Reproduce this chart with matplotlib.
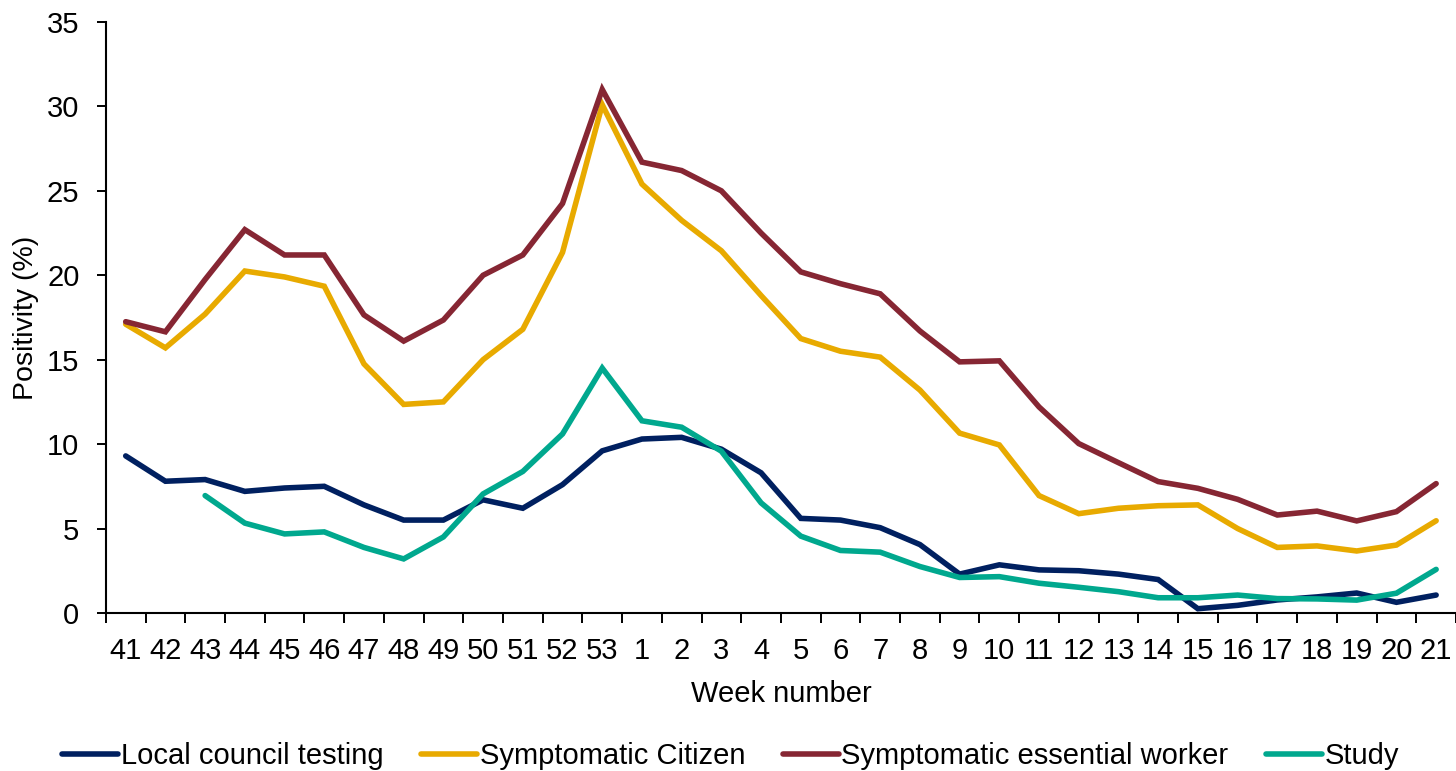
import matplotlib
matplotlib.use("Agg")
import matplotlib.pyplot as plt
import numpy as np

weeks = ["41", "42", "43", "44", "45", "46", "47", "48", "49", "50", "51", "52", "53",
         "1", "2", "3", "4", "5", "6", "7", "8", "9", "10", "11", "12", "13", "14",
         "15", "16", "17", "18", "19", "20", "21"]

local_council = [9.3, 7.8, 7.9, 7.2, 7.4, 7.5, 6.4, 5.5, 5.5, 6.7, 6.2, 7.6, 9.6,
                 10.3, 10.4, 9.7, 8.3, 5.6, 5.5, 5.05, 4.05, 2.3, 2.85, 2.55, 2.5, 2.3, 1.98,
                 0.25, 0.45, 0.77, 0.95, 1.18, 0.63, 1.06]
symptomatic_citizen = [17.1, 15.7, 17.7, 20.25, 19.9, 19.35, 14.75, 12.35, 12.5, 15.0, 16.8, 21.35, 30.1,
                       25.4, 23.25, 21.45, 18.8, 16.25, 15.5, 15.15, 13.2, 10.65, 9.95, 6.95, 5.88, 6.2, 6.35,
                       6.4, 5.0, 3.88, 3.97, 3.67, 4.02, 5.46]
symptomatic_essential = [17.25, 16.65, 19.75, 22.7, 21.2, 21.2, 17.65, 16.1, 17.35, 20.0, 21.2, 24.25, 31.0,
                         26.7, 26.2, 25.0, 22.5, 20.2, 19.5, 18.9, 16.7, 14.87, 14.93, 12.2, 10.03, 8.9, 7.78,
                         7.38, 6.73, 5.8, 6.03, 5.45, 6.0, 7.66]
study = [np.nan, np.nan, 6.95, 5.32, 4.68, 4.8, 3.88, 3.2, 4.5, 7.05, 8.38, 10.6, 14.5,
         11.38, 11.0, 9.58, 6.52, 4.55, 3.7, 3.6, 2.75, 2.1, 2.15, 1.76, 1.52, 1.26, 0.9,
         0.9, 1.06, 0.85, 0.83, 0.76, 1.17, 2.58]

series = [
    ("Local council testing", local_council, "#002060"),
    ("Symptomatic Citizen", symptomatic_citizen, "#E8AA00"),
    ("Symptomatic essential worker", symptomatic_essential, "#862633"),
    ("Study", study, "#00A88E"),
]

plt.rcParams['font.family'] = ['Liberation Sans', 'DejaVu Sans']
FS = 21

fig = plt.figure(figsize=(14.56, 7.71), dpi=100)
ax = fig.add_axes([0.0727, 0.205, 0.9273, 0.7665])

x = np.arange(len(weeks))
for name, vals, col in series:
    ax.plot(x, vals, color=col, lw=4.0, label=name,
            solid_joinstyle='miter', solid_capstyle='round')

ax.set_xlim(-0.5, len(weeks) - 0.5)
ax.set_ylim(0, 35)
ax.set_yticks(np.arange(0, 36, 5))
ax.set_xticks(x)
ax.set_xticklabels(weeks)
ax.set_xticks(np.arange(-0.5, len(weeks), 1.0), minor=True)
ax.tick_params(axis='x', which='major', length=0, pad=17, labelsize=FS)
ax.tick_params(axis='x', which='minor', length=7, width=1.4, direction='out')
ax.tick_params(axis='y', which='major', length=6.5, width=1.4, direction='out', pad=12.5, labelsize=FS)

for s in ['top', 'right']:
    ax.spines[s].set_visible(False)
for s in ['left', 'bottom']:
    ax.spines[s].set_linewidth(1.5)
    ax.spines[s].set_color('black')

ax.set_xlabel("Week number", fontsize=FS, labelpad=11)
ax.set_ylabel("Positivity (%)", fontsize=20.5, labelpad=6)

fig.legend(loc='center', bbox_to_anchor=(0.502, 0.019), ncol=4, frameon=False,
           fontsize=FS, handlelength=1.9, handletextpad=0.1, columnspacing=1.3)

fig.savefig("out.png", dpi=100)
